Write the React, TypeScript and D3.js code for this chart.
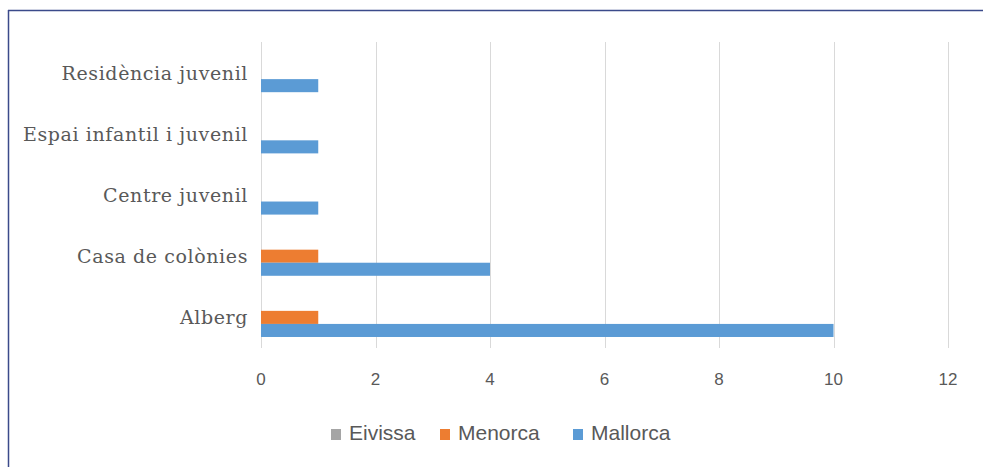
import React from "react";
import * as d3 from "d3";

const categories = ["Residència juvenil", "Espai infantil i juvenil", "Centre juvenil", "Casa de colònies", "Alberg"];
const seriesNames = ["Eivissa", "Menorca", "Mallorca"];
const eivissa = [0, 0, 0, 0, 0];
const menorca = [0, 0, 0, 1, 1];
const mallorca = [1, 1, 1, 4, 10];
const xTicks = [0, 2, 4, 6, 8, 10, 12];
const colors = ["#A5A5A5", "#ED7D31", "#5B9BD5"];

export default function App() {
  const W = 983, H = 467;
  const left = 261, right = 948, top = 42, bottom = 348;
  const x = d3.scaleLinear().domain([0, 12]).range([left, right]);
  const y = d3.scaleBand().domain(categories).range([top, bottom]).paddingInner(0.36).paddingOuter(0.18);
  const inner = d3.scaleBand().domain(seriesNames).range([0, y.bandwidth()]);
  const data = [eivissa, menorca, mallorca];
  const legendX = [331, 440, 573];
  return (
    <svg width={W} height={H} style={{ position: "absolute", left: 0, top: 0, background: "#fff" }}>
      <rect x={0} y={0} width={W} height={H} fill="#fff" />
      <line x1={8} x2={W} y1={10.5} y2={10.5} stroke="#3B4A8A" strokeWidth={1.5} />
      <line x1={8.5} x2={8.5} y1={10} y2={H} stroke="#3B4A8A" strokeWidth={1.5} />
      {xTicks.map((t) => (
        <g key={t}>
          <line x1={Math.round(x(t)) + 0.5} x2={Math.round(x(t)) + 0.5} y1={top} y2={bottom} stroke="#D9D9D9" strokeWidth={1} />
          <text x={x(t)} y={385} textAnchor="middle" fontFamily="'Liberation Sans', Arial, sans-serif" fontSize={17} fill="#595959">{t}</text>
        </g>
      ))}
      {categories.map((c, i) => (
        <g key={c}>
          <text x={248} y={(y(c) as number) + y.bandwidth() / 2 + 7} textAnchor="end" fontFamily="'DejaVu Serif', serif" fontSize={19} letterSpacing={0.6} fill="#595959">{c}</text>
          {seriesNames.map((s, k) => (
            data[k][i] > 0 ? (
              <rect key={s} x={x(0)} y={(y(c) as number) + (inner(s) as number)} width={x(data[k][i]) - x(0)} height={inner.bandwidth()} fill={colors[k]} />
            ) : null
          ))}
        </g>
      ))}
      {seriesNames.map((s, k) => (
        <g key={s}>
          <rect x={legendX[k]} y={429} width={10} height={11} fill={colors[k]} />
          <text x={legendX[k] + 18} y={440} fontFamily="'Liberation Sans', Arial, sans-serif" fontSize={21} fill="#595959">{s}</text>
        </g>
      ))}
    </svg>
  );
}
